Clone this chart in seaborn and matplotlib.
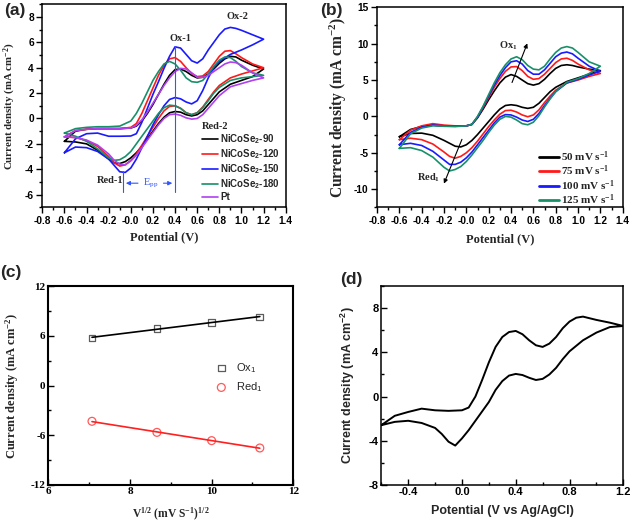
import numpy as np
import matplotlib
matplotlib.use("Agg")
import matplotlib.pyplot as plt
from matplotlib.ticker import MultipleLocator, FormatStrFormatter
import seaborn as sns

# potential grid (V) of the anodic (forward) and cathodic (reverse) sweeps
v_fwd = [-0.6, -0.5, -0.4, -0.3, -0.2, -0.1, 0.0, 0.05, 0.1, 0.15, 0.2, 0.25, 0.3, 0.35, 0.4,
         0.45, 0.5, 0.55, 0.6, 0.65, 0.7, 0.75, 0.8, 0.85, 0.9, 0.95, 1.0, 1.1, 1.2]
v_rev = [1.2, 1.1, 1.0, 0.9, 0.8, 0.75, 0.7, 0.65, 0.6, 0.55, 0.5, 0.45, 0.4, 0.35, 0.3,
         0.25, 0.2, 0.15, 0.1, 0.05, 0.0, -0.05, -0.1, -0.15, -0.2, -0.3, -0.4, -0.5, -0.6]

# (a) current density (mA cm-2) of the counter electrodes
a_labels = ["NiCoSe$_2$-90", "NiCoSe$_2$-120", "NiCoSe$_2$-150", "NiCoSe$_2$-180", "Pt"]
a_90_fwd = [-1.8, -1.0, -0.85, -0.8, -0.8, -0.8, -0.75, -0.6, -0.2, 0.4, 1.1, 1.9, 2.7, 3.4, 3.85,
            3.9, 3.7, 3.4, 3.2, 3.25, 3.5, 3.9, 4.35, 4.7, 4.9, 4.85, 4.6, 4.2, 3.9]
a_90_rev = [3.9, 3.3, 3.0, 2.7, 2.1, 1.6, 1.1, 0.6, 0.3, 0.2, 0.3, 0.5, 0.55, 0.45, 0.1,
            -0.4, -1.0, -1.6, -2.2, -2.7, -3.1, -3.4, -3.55, -3.5, -3.2, -2.5, -2.0, -1.85, -1.8]
a_120_fwd = [-1.45, -0.95, -0.85, -0.8, -0.8, -0.8, -0.7, -0.4, 0.4, 1.4, 2.4, 3.4, 4.2, 4.7, 4.8,
             4.5, 4.0, 3.55, 3.3, 3.35, 3.7, 4.3, 4.9, 5.3, 5.35, 5.1, 4.8, 4.3, 4.0]
a_120_rev = [4.0, 3.75, 3.5, 3.2, 2.6, 2.1, 1.5, 0.9, 0.45, 0.3, 0.45, 0.8, 1.0, 0.95, 0.6,
             0.0, -0.7, -1.4, -2.1, -2.8, -3.3, -3.65, -3.75, -3.5, -3.0, -2.2, -1.75, -1.5, -1.45]
a_150_fwd = [-2.7, -1.6, -1.2, -1.15, -1.4, -1.4, -1.38, -1.2, -0.3, 0.8, 1.9, 2.9, 3.95, 4.9, 5.65,
             5.55, 5.05, 4.55, 4.37, 4.7, 5.4, 6.0, 6.6, 7.05, 7.18, 7.1, 6.95, 6.6, 6.25]
a_150_rev = [6.25, 5.8, 5.4, 5.05, 4.5, 4.0, 3.2, 2.2, 1.4, 1.15, 1.3, 1.55, 1.65, 1.5, 1.0,
             0.3, -0.5, -1.4, -2.3, -3.2, -3.9, -4.25, -4.2, -3.7, -3.2, -2.6, -2.3, -2.25, -2.7]
a_180_fwd = [-1.15, -0.8, -0.7, -0.65, -0.65, -0.6, -0.2, 0.4, 1.2, 2.1, 3.0, 3.7, 4.3, 4.5, 4.3,
             3.8, 3.2, 2.9, 2.85, 3.0, 3.5, 4.1, 4.6, 4.85, 4.8, 4.5, 4.1, 3.6, 3.4]
a_180_rev = [3.4, 3.3, 3.2, 3.0, 2.45, 2.0, 1.4, 0.85, 0.45, 0.3, 0.45, 0.8, 1.0, 1.05, 0.85,
             0.4, -0.2, -0.8, -1.4, -2.0, -2.6, -3.0, -3.25, -3.3, -3.1, -2.4, -1.8, -1.4, -1.15]
a_pt_fwd = [-1.45, -0.95, -0.85, -0.8, -0.8, -0.8, -0.75, -0.55, -0.1, 0.5, 1.2, 1.9, 2.6, 3.2, 3.7,
            3.95, 3.9, 3.6, 3.25, 3.25, 3.4, 3.7, 4.0, 4.3, 4.45, 4.4, 4.2, 3.6, 3.2]
a_pt_rev = [3.2, 3.0, 2.75, 2.5, 1.8, 1.3, 0.8, 0.3, 0.0, -0.05, 0.05, 0.25, 0.35, 0.3, 0.0,
            -0.5, -1.1, -1.7, -2.3, -2.9, -3.35, -3.65, -3.6, -3.3, -2.8, -2.1, -1.7, -1.5, -1.45]

# (b) NiCoSe2-150 at different scan rates
b_labels = ["50 mV s$^{-1}$", "75 mV s$^{-1}$", "100 mV s$^{-1}$", "125 mV s$^{-1}$"]
b_50_fwd = [-2.8, -1.8, -1.4, -1.2, -1.35, -1.35, -1.3, -1.1, -0.2, 1.0, 2.3, 3.5, 4.6, 5.4, 5.75,
            5.5, 5.0, 4.5, 4.3, 4.5, 5.1, 5.9, 6.6, 7.0, 7.1, 7.0, 6.8, 6.5, 6.3]
b_50_rev = [6.3, 5.8, 5.3, 4.8, 4.0, 3.4, 2.6, 1.8, 1.25, 1.1, 1.25, 1.5, 1.6, 1.5, 1.0,
            0.2, -0.7, -1.6, -2.5, -3.3, -3.9, -4.2, -4.1, -3.7, -3.3, -2.6, -2.3, -2.35, -2.8]
b_75_fwd = [-3.2, -1.9, -1.3, -1.0, -1.2, -1.3, -1.3, -1.1, -0.1, 1.2, 2.6, 4.0, 5.2, 6.2, 6.8,
            6.85, 6.3, 5.5, 5.1, 5.2, 5.8, 6.6, 7.4, 7.9, 8.0, 7.7, 7.2, 6.4, 5.9]
b_75_rev = [5.9, 5.5, 5.0, 4.6, 3.6, 2.8, 1.9, 0.9, 0.2, -0.05, 0.2, 0.6, 0.85, 0.8, 0.3,
            -0.5, -1.4, -2.4, -3.4, -4.3, -5.0, -5.5, -5.75, -5.5, -4.9, -3.8, -3.2, -3.0, -3.2]
b_100_fwd = [-3.9, -2.2, -1.5, -1.2, -1.3, -1.35, -1.3, -1.1, -0.1, 1.3, 2.8, 4.3, 5.6, 6.7, 7.5,
             7.65, 7.2, 6.3, 5.8, 5.8, 6.4, 7.3, 8.2, 8.7, 8.85, 8.6, 8.0, 6.9, 6.2]
b_100_rev = [6.2, 5.7, 5.1, 4.6, 3.4, 2.5, 1.5, 0.4, -0.4, -0.7, -0.5, -0.1, 0.2, 0.25, -0.1,
             -0.9, -1.9, -2.9, -3.9, -4.9, -5.7, -6.3, -6.6, -6.6, -6.0, -4.8, -4.0, -3.7, -3.9]
b_125_fwd = [-4.4, -2.4, -1.6, -1.3, -1.35, -1.4, -1.3, -1.1, 0.0, 1.4, 3.0, 4.6, 6.0, 7.1, 7.9,
             8.2, 7.8, 7.0, 6.5, 6.4, 6.9, 7.9, 8.8, 9.4, 9.6, 9.4, 8.8, 7.5, 6.9]
b_125_rev = [6.9, 5.9, 5.2, 4.7, 3.4, 2.4, 1.3, 0.1, -0.8, -1.15, -1.0, -0.5, -0.1, 0.0, -0.4,
             -1.2, -2.2, -3.3, -4.3, -5.3, -6.2, -6.9, -7.3, -7.5, -7.0, -5.6, -4.7, -4.3, -4.4]

# (c) peak current density vs square root of scan rate
sqrt_rate = [7.07, 8.66, 10.0, 11.18]
ox1_peak = [5.75, 6.92, 7.64, 8.28]
red1_peak = [-4.33, -5.67, -6.67, -7.56]

# (d) repeated cycling, vs Ag/AgCl
d_fwd = [-2.6, -1.75, -1.4, -1.1, -1.25, -1.3, -1.25, -1.0, 0.0, 1.5, 3.1, 4.5, 5.4, 5.85, 5.95,
         5.65, 5.1, 4.65, 4.5, 4.8, 5.4, 6.2, 6.8, 7.15, 7.25, 7.1, 6.95, 6.7, 6.4]
d_rev = [6.4, 6.3, 5.8, 5.1, 4.1, 3.4, 2.6, 2.0, 1.6, 1.5, 1.7, 1.95, 2.05, 1.9, 1.4,
         0.6, -0.5, -1.35, -2.2, -3.05, -3.8, -4.45, -4.1, -3.4, -2.85, -2.4, -2.2, -2.3, -2.6]

SERIF = "Liberation Serif"
SANS = "Liberation Sans"

sns.set_style("ticks")
plt.rcParams["font.family"] = [SERIF, "DejaVu Sans"]
plt.rcParams["mathtext.default"] = "regular"
plt.rcParams["axes.unicode_minus"] = False
plt.rcParams["axes.linewidth"] = 1.1
plt.rcParams["axes.edgecolor"] = "black"

W, H = 632, 526
fig = plt.figure(figsize=(W / 100, H / 100), dpi=100)


def px_axes(l, t, r, b):
    return fig.add_axes([l / W, 1 - b / H, (r - l) / W, (b - t) / H])


def style_ticks(ax, family, size, direction):
    ax.tick_params(which="both", direction=direction, width=1.0, colors="black")
    ax.tick_params(which="major", length=4, pad=2)
    ax.tick_params(which="minor", length=2.2)
    for lab in ax.get_xticklabels() + ax.get_yticklabels():
        lab.set_fontfamily(family)
        lab.set_fontweight("bold")
        lab.set_fontsize(size)


def axis_text(ax, xlab, ylab, family, xsize, ysize, xy_lab, yx_lab):
    ax.set_xlabel(xlab, fontfamily=family, fontweight="bold", fontsize=xsize)
    ax.set_ylabel(ylab, fontfamily=family, fontweight="bold", fontsize=ysize)
    ax.xaxis.set_label_coords(0.5, xy_lab)
    ax.yaxis.set_label_coords(yx_lab, 0.5)


# ---------------- (a)
ax = px_axes(42.3, 4.3, 285.7, 207.3)
a_curves = [(a_90_fwd, a_90_rev, "black"), (a_120_fwd, a_120_rev, "#ff1a1a"),
            (a_150_fwd, a_150_rev, "#1a1aff"), (a_180_fwd, a_180_rev, "#17906a"),
            (a_pt_fwd, a_pt_rev, "#b040f0")]
for (fwd, rev, col), lab in zip(a_curves, a_labels):
    sns.lineplot(x=v_fwd + v_rev, y=fwd + rev, sort=False, estimator=None,
                 color=col, lw=1.2, label=lab, ax=ax)
ax.set_xlim(-0.8, 1.4)
ax.set_ylim(-7, 9)
ax.set_xticks(np.arange(-0.8, 1.41, 0.2))
ax.set_yticks(np.arange(-6, 8.1, 2))
ax.xaxis.set_minor_locator(MultipleLocator(0.1))
ax.yaxis.set_minor_locator(MultipleLocator(1))
ax.xaxis.set_major_formatter(FormatStrFormatter("%.1f"))
ax.yaxis.set_major_formatter(FormatStrFormatter("%d"))
style_ticks(ax, SANS, 7.3, "out")
axis_text(ax, "Potential (V)", "Current density (mA cm$^{-2}$)", SERIF, 9, 7.8, -0.12, -0.1)
ax.legend(loc="lower right", frameon=False, handlelength=1.7, handletextpad=0.2,
          labelspacing=0.12, borderaxespad=0.15,
          prop=dict(family=SANS, weight="bold", size=7))
blue = "#3355ff"
ax.plot([0.4, 0.4], [-5.8, 5.7], color=blue, lw=0.8)
ax.plot([-0.07, -0.07], [-5.8, -4.1], color=blue, lw=0.8)
ax.annotate("", xy=(-0.07, -5.1), xytext=(0.09, -5.1),
            arrowprops=dict(arrowstyle="-|>", color=blue, lw=0.8, mutation_scale=6))
ax.annotate("", xy=(0.4, -5.1), xytext=(0.27, -5.1),
            arrowprops=dict(arrowstyle="-|>", color=blue, lw=0.8, mutation_scale=6))
ax.text(0.18, -5.1, "E$_{pp}$", color=blue, ha="center", va="center",
        fontsize=7.5, fontfamily=SERIF)
txt = dict(fontfamily=SERIF, fontweight="bold", fontsize=7.5, ha="center", va="center")
ax.text(0.45, 6.3, "Ox-1", **txt)
ax.text(0.96, 8.0, "Ox-2", **txt)
ax.text(0.76, -0.65, "Red-2", **txt)
ax.text(-0.19, -4.85, "Red-1", **txt)

# ---------------- (b)
ax = px_axes(377, 7.3, 622.7, 207.3)
b_curves = [(b_50_fwd, b_50_rev, "black"), (b_75_fwd, b_75_rev, "#ff1a1a"),
            (b_100_fwd, b_100_rev, "#1a1aff"), (b_125_fwd, b_125_rev, "#17906a")]
for (fwd, rev, col), lab in zip(b_curves, b_labels):
    sns.lineplot(x=v_fwd + v_rev, y=fwd + rev, sort=False, estimator=None,
                 color=col, lw=1.2, label=lab, ax=ax)
ax.set_xlim(-0.8, 1.4)
ax.set_ylim(-12.5, 15)
ax.set_xticks(np.arange(-0.8, 1.41, 0.2))
ax.set_yticks(np.arange(-10, 15.1, 5))
ax.xaxis.set_minor_locator(MultipleLocator(0.1))
ax.yaxis.set_minor_locator(MultipleLocator(2.5))
ax.xaxis.set_major_formatter(FormatStrFormatter("%.1f"))
ax.yaxis.set_major_formatter(FormatStrFormatter("%d"))
style_ticks(ax, SANS, 7.3, "out")
axis_text(ax, "Potential (V)", "Current density (mA cm$^{-2}$)", SERIF, 9, 11.2, -0.128, -0.115)
leg = ax.legend(loc="lower right", bbox_to_anchor=(0.99, -0.028), frameon=False,
                handlelength=1.8, handletextpad=0.2, labelspacing=0.0, borderaxespad=0.1,
                prop=dict(family=SERIF, weight="bold", size=8))
for hl in leg.get_lines():
    hl.set_linewidth(2.0)
ax.annotate("", xy=(0.555, 10.4), xytext=(0.40, 4.3),
            arrowprops=dict(arrowstyle="-|>", color="black", lw=0.8, mutation_scale=6))
ax.annotate("", xy=(-0.21, -9.6), xytext=(-0.03, -2.8),
            arrowprops=dict(arrowstyle="-|>", color="black", lw=0.8, mutation_scale=6))
ax.text(0.38, 9.7, "Ox$_1$", **txt)
ax.text(-0.34, -8.4, "Red$_1$", **txt)

# ---------------- (c)
ax = px_axes(48.3, 286.3, 293.3, 484.7)
sns.regplot(x=sqrt_rate, y=ox1_peak, ci=None, marker="s", color="black", label="Ox$_1$",
            scatter_kws=dict(s=24, facecolors="none", edgecolors="#333333", linewidths=0.9),
            line_kws=dict(lw=1.2), ax=ax)
sns.regplot(x=sqrt_rate, y=red1_peak, ci=None, marker="o", color="#ff2020", label="Red$_1$",
            scatter_kws=dict(s=32, facecolors="none", edgecolors="#ff3030", linewidths=0.9),
            line_kws=dict(lw=1.2), ax=ax)
ax.set_xlim(6, 12)
ax.set_ylim(-12, 12)
ax.set_xticks([6, 8, 10, 12])
ax.set_yticks([-12, -6, 0, 6, 12])
ax.xaxis.set_minor_locator(MultipleLocator(1))
ax.yaxis.set_minor_locator(MultipleLocator(3))
for sp in ax.spines.values():
    sp.set_linewidth(1.5)
style_ticks(ax, SERIF, 8, "in")
axis_text(ax, "V$^{1/2}$ (mV S$^{-1}$)$^{1/2}$", "Current density (mA cm$^{-2}$)",
          SERIF, 8.3, 9, -0.105, -0.11)
ax.legend(loc="center left", bbox_to_anchor=(0.62, 0.54), frameon=False,
          handletextpad=0.3, labelspacing=0.5, prop=dict(family=SANS, size=8))

# ---------------- (d)
ax = px_axes(381.3, 286.3, 623.3, 484.7)
sns.lineplot(x=v_fwd + v_rev, y=d_fwd + d_rev, sort=False, estimator=None,
             color="black", lw=1.4, ax=ax)
ax.set_xlim(-0.6, 1.2)
ax.set_ylim(-8, 10)
ax.set_xticks([-0.4, 0.0, 0.4, 0.8, 1.2])
ax.set_yticks([-8, -4, 0, 4, 8])
ax.xaxis.set_minor_locator(MultipleLocator(0.2))
ax.yaxis.set_minor_locator(MultipleLocator(2))
ax.xaxis.set_major_formatter(FormatStrFormatter("%.1f"))
ax.yaxis.set_major_formatter(FormatStrFormatter("%d"))
style_ticks(ax, SANS, 8, "in")
axis_text(ax, "Potential (V vs Ag/AgCl)", "Current density (mA cm$^{-2}$)",
          SANS, 9, 9, -0.10, -0.10)

# panel letters
for x, y, s in [(4, 3, "(a)"), (320, 3, "(b)"), (0, 265, "(c)"), (340, 272, "(d)")]:
    fig.text(x / W, 1 - y / H, s, ha="left", va="top", fontsize=12.5,
             fontweight="bold", fontfamily=SANS)

fig.savefig("out.png", dpi=100)
